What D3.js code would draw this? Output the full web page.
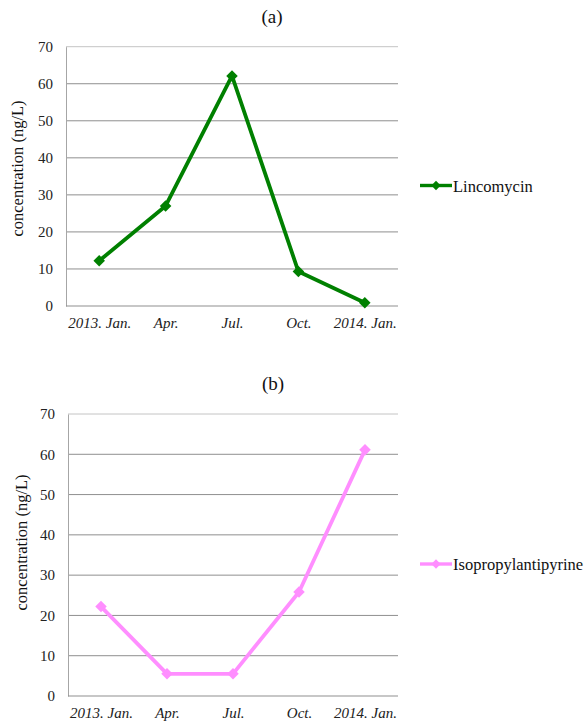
<!DOCTYPE html>
<html><head><meta charset="utf-8">
<script src="https://cdn.jsdelivr.net/npm/d3@7"></script>
<style>body{margin:0;background:#fff}svg{display:block}svg text{font-family:"Liberation Serif","Times New Roman",Times,serif}</style>
</head><body>
<script>
const categories = ["2013. Jan.", "Apr.", "Jul.", "Oct.", "2014. Jan."];
const lincomycin = [12.2, 27.0, 62.1, 9.3, 0.9];
const isopropylantipyrine = [22.2, 5.5, 5.5, 25.8, 61.1];
const yTicks = [0, 10, 20, 30, 40, 50, 60, 70];

const W = 585, H = 722;
const svg = d3.select("body").append("svg").attr("width", W).attr("height", H);

function panel(cfg) {
  const g = svg.append("g");
  const x = d3.scalePoint().domain(categories).range([cfg.left, cfg.right]).padding(0.5);
  const y = d3.scaleLinear().domain([0, 70]).range([cfg.bottom, cfg.top]);

  g.selectAll("line.grid").data(yTicks.filter(d => d > 0)).enter().append("line")
    .attr("x1", cfg.left).attr("x2", cfg.right)
    .attr("y1", d => y(d)).attr("y2", d => y(d))
    .attr("stroke", d => d === 70 ? "#c4c4c4" : "#8f8f8f").attr("stroke-width", 1);

  const yAxis = g.append("g").attr("transform", `translate(${cfg.left},0)`)
    .call(d3.axisLeft(y).tickValues(yTicks).tickSize(0).tickPadding(13));
  yAxis.attr("font-family", null);
  yAxis.select(".domain").attr("stroke", "#a6a6a6");
  yAxis.selectAll("text").attr("font-size", 15).attr("fill", "#222");

  const xAxis = g.append("g").attr("transform", `translate(0,${cfg.bottom})`)
    .call(d3.axisBottom(x).tickSize(0).tickPadding(11));
  xAxis.attr("font-family", null);
  xAxis.select(".domain").attr("stroke", "#8f8f8f").attr("d", `M${cfg.left},0H${cfg.right}`);
  xAxis.selectAll("text").attr("font-size", 15)
    .attr("font-style", "italic").attr("fill", "#222");

  g.append("text").attr("x", cfg.titleX).attr("y", cfg.titleY).attr("text-anchor", "middle")
    .attr("font-size", 19).attr("fill", "#111").text(cfg.title);

  g.append("text").attr("transform", `translate(${cfg.ylabX},${cfg.ylabY}) rotate(-90)`)
    .attr("text-anchor", "middle").attr("font-size", 16.5)
    .attr("fill", "#111").text("concentration (ng/L)");

  const line = d3.line().x((d, i) => x(categories[i])).y(d => y(d));
  g.append("path").datum(cfg.values).attr("d", line).attr("fill", "none")
    .attr("stroke", cfg.color).attr("stroke-width", 3.8).attr("stroke-linejoin", "round");

  const diamond = d3.symbol().type(d3.symbolDiamond2).size(85);
  g.selectAll("path.pt").data(cfg.values).enter().append("path")
    .attr("d", diamond)
    .attr("transform", (d, i) => `translate(${x(categories[i])},${y(d)})`)
    .attr("fill", cfg.color);

  g.append("line").attr("x1", cfg.legX).attr("x2", cfg.legX + 32)
    .attr("y1", cfg.legY).attr("y2", cfg.legY).attr("stroke", cfg.color).attr("stroke-width", 3.4);
  g.append("path").attr("d", d3.symbol().type(d3.symbolDiamond2).size(55))
    .attr("transform", `translate(${cfg.legX + 16},${cfg.legY})`).attr("fill", cfg.color);
  g.append("text").attr("x", cfg.legX + 33).attr("y", cfg.legY + 6)
    .attr("font-size", 16.5).attr("fill", "#111").text(cfg.name);
}

panel({left: 66, right: 398, top: 46.7, bottom: 306, values: lincomycin, color: "#008000",
  title: "(a)", titleX: 272, titleY: 22.5, ylabX: 23, ylabY: 168.5,
  name: "Lincomycin", legX: 420, legY: 185.5});
panel({left: 68, right: 398, top: 414, bottom: 696, values: isopropylantipyrine, color: "#ff8eff",
  title: "(b)", titleX: 273, titleY: 389.5, ylabX: 26.5, ylabY: 542.5,
  name: "Isopropylantipyrine", legX: 420, legY: 564});
</script>
</body></html>
